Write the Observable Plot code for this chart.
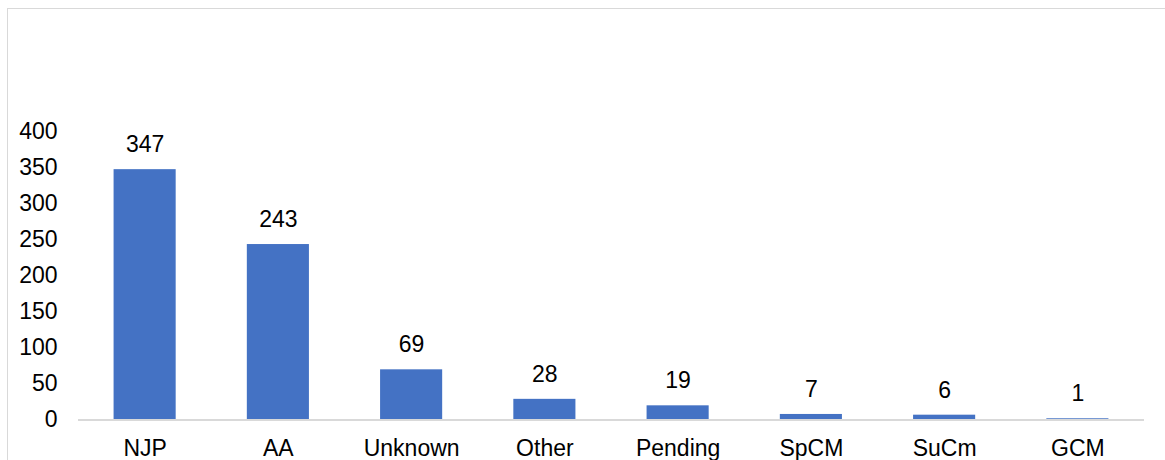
<!DOCTYPE html>
<html>
<head>
<meta charset="utf-8">
<script src="https://cdn.jsdelivr.net/npm/d3@7"></script>
<script src="https://cdn.jsdelivr.net/npm/@observablehq/plot@0.6"></script>
<style>
  html, body { margin: 0; padding: 0; background: #fff; overflow: hidden; }
  #wrap { position: relative; width: 1165px; height: 460px; overflow: hidden; }
  #border { position: absolute; left: 7px; top: 8px; width: 1300px; height: 600px;
            border: 1.5px solid #d9d9d9; box-sizing: border-box; pointer-events: none; }
  svg { font-family: "Liberation Sans", Arial, sans-serif; }
</style>
</head>
<body>
<div id="wrap"><div id="border"></div></div>
<script>
const categories = ["NJP", "AA", "Unknown", "Other", "Pending", "SpCM", "SuCm", "GCM"];
const counts = [347, 243, 69, 28, 19, 7, 6, 1];
const yTicks = [0, 50, 100, 150, 200, 250, 300, 350, 400];

const data = categories.map((c, i) => ({category: c, value: counts[i]}));

const chart = Plot.plot({
  width: 1165,
  height: 460,
  marginLeft: 78,
  marginRight: 21,
  marginTop: 131,
  marginBottom: 41,
  style: {fontFamily: "'Liberation Sans', Arial, sans-serif", fontSize: "23px", color: "#000", background: "transparent"},
  x: {domain: categories, paddingInner: 0.534, paddingOuter: 0.267, round: false, label: null},
  y: {domain: [0, 400], label: null},
  marks: [
    Plot.axisY({ticks: yTicks, tickSize: 0, tickPadding: 21, fontSize: 23, label: null}),
    Plot.axisX({tickSize: 0, tickPadding: 20, fontSize: 23, label: null}),
    Plot.barY(data, {x: "category", y: "value", fill: "#4472C4"}),
    Plot.ruleY([0], {stroke: "#d9d9d9", strokeWidth: 2, dy: 0.5}),
    Plot.text(data, {x: "category", y: "value", text: d => String(d.value), dy: -25, fontSize: 23, fill: "#000"})
  ]
});
document.getElementById("wrap").prepend(chart);
</script>
</body>
</html>
